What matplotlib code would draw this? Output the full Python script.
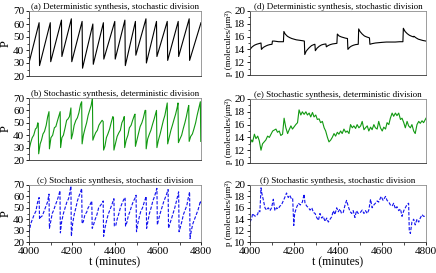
import matplotlib
matplotlib.use("Agg")
import matplotlib.pyplot as plt
from matplotlib.ticker import MultipleLocator

plt.rcParams['font.family'] = ['Liberation Serif', 'DejaVu Serif']

# (a) deterministic synthesis, stochastic division: protein number
t_a = [4000, 4047, 4049, 4099, 4101, 4151, 4153, 4197, 4199, 4247, 4249, 4297, 4299,
       4346, 4348, 4399, 4401, 4446, 4448, 4495, 4497, 4544, 4546, 4593, 4595, 4643,
       4645, 4694, 4696, 4745, 4747, 4800]
P_a = [30, 61, 28, 61, 31, 63, 35, 64, 31, 62, 26, 60, 29,
       61, 33, 62, 33, 63, 28, 62, 36, 64, 30, 62, 35, 62,
       32, 62, 35, 64, 32, 61]

# (b) stochastic synthesis, deterministic division
t_b = [4000, 4008, 4015, 4022, 4030, 4036, 4041, 4043,
       4045, 4052, 4058, 4065, 4072, 4080, 4087, 4093,
       4095, 4102, 4110, 4118, 4125, 4133, 4140, 4145,
       4147, 4153, 4160, 4168, 4175, 4181, 4188, 4195,
       4197, 4203, 4210, 4218, 4225, 4232, 4240, 4245,
       4247, 4253, 4260, 4268, 4275, 4282, 4289, 4295,
       4297, 4303, 4310, 4318, 4325, 4332, 4340, 4345,
       4347, 4353, 4360, 4367, 4375, 4382, 4390, 4393,
       4395, 4402, 4410, 4418, 4425, 4432, 4440, 4443,
       4445, 4452, 4460, 4467, 4475, 4482, 4490, 4493,
       4495, 4502, 4510, 4517, 4525, 4532, 4540, 4543,
       4545, 4552, 4560, 4567, 4575, 4582, 4590, 4593,
       4595, 4602, 4610, 4617, 4625, 4632, 4640, 4643,
       4645, 4652, 4660, 4667, 4675, 4682, 4690, 4693,
       4695, 4702, 4710, 4717, 4725, 4732, 4740, 4743,
       4745, 4752, 4760, 4767, 4775, 4782, 4790, 4797, 4799]
P_b = [28, 34, 38, 40, 45, 46, 50, 49,
       25, 33, 36, 41, 43, 48, 55, 59,
       29, 38, 40, 46, 47, 52, 56, 59,
       30, 38, 40, 46, 52, 53, 55, 62,
       37, 41, 48, 52, 54, 58, 65, 67,
       33, 40, 45, 50, 56, 60, 64, 70,
       36, 39, 42, 44, 48, 50, 52, 51,
       28, 31, 38, 41, 45, 50, 55, 54,
       28, 33, 39, 42, 44, 50, 53, 55,
       30, 36, 40, 46, 48, 52, 56, 57,
       31, 36, 42, 47, 50, 54, 60, 60,
       29, 37, 41, 44, 49, 53, 58, 60,
       30, 36, 41, 46, 52, 56, 63, 66,
       33, 38, 44, 48, 53, 57, 63, 66,
       34, 37, 40, 45, 50, 55, 62, 64,
       35, 39, 41, 45, 50, 56, 62, 67, 35]

# (c) stochastic synthesis, stochastic division
t_c = [4000, 4008, 4016, 4024, 4032, 4040, 4047,
       4049, 4055, 4062, 4070, 4078, 4086, 4093,
       4095, 4101, 4108, 4115, 4122, 4130, 4137, 4144,
       4146, 4152, 4160, 4168, 4176, 4184, 4190, 4195,
       4197, 4203, 4210, 4218, 4225, 4232, 4240, 4245,
       4247, 4253, 4260, 4268, 4275, 4282, 4292,
       4294, 4300, 4308, 4316, 4324, 4332, 4340, 4345,
       4347, 4353, 4360, 4368, 4376, 4384, 4395,
       4397, 4403, 4410, 4418, 4425, 4433, 4440, 4447,
       4449, 4455, 4462, 4470, 4478, 4486, 4492, 4498,
       4500, 4506, 4513, 4520, 4528, 4536, 4545,
       4547, 4553, 4560, 4568, 4576, 4584, 4590, 4595,
       4597, 4603, 4610, 4618, 4626, 4634, 4640, 4647,
       4649, 4655, 4662, 4670, 4678, 4686, 4696,
       4698, 4704, 4711, 4718, 4726, 4734, 4740, 4747,
       4749, 4755, 4762, 4770, 4778, 4786, 4792, 4797, 4800]
P_c = [28, 36, 40, 44, 47, 55, 59,
       40, 42, 43, 47, 51, 55, 62,
       32, 38, 45, 48, 52, 56, 60, 65,
       28, 38, 45, 50, 55, 58, 64, 69,
       25, 36, 44, 50, 56, 60, 64, 67,
       36, 38, 44, 46, 50, 52, 56,
       32, 35, 40, 44, 50, 52, 54, 56,
       25, 32, 38, 44, 48, 52, 58,
       34, 34, 40, 45, 50, 54, 57, 59,
       34, 37, 43, 47, 52, 56, 58, 61,
       29, 36, 42, 47, 50, 55, 60,
       32, 38, 45, 50, 56, 60, 64, 67,
       35, 40, 45, 50, 55, 59, 62, 66,
       32, 36, 40, 45, 50, 56, 64,
       29, 33, 38, 44, 48, 52, 58, 64,
       23, 30, 36, 40, 44, 48, 52, 56, 54]

# (d) concentration, deterministic synthesis, stochastic division
t_d = [4000, 4010, 4020, 4030, 4040, 4050, 4052, 4060, 4070, 4080, 4090, 4100,
       4102, 4110, 4120, 4130, 4140, 4152, 4154, 4160, 4170, 4180, 4190, 4200,
       4210, 4220, 4230, 4240, 4247, 4249, 4255, 4262, 4270, 4280, 4290, 4295,
       4297, 4305, 4315, 4325, 4335, 4345, 4347, 4355, 4365, 4375, 4385, 4395,
       4397, 4405, 4415, 4425, 4435, 4443, 4445, 4452, 4460, 4470, 4480, 4492,
       4494, 4500, 4510, 4520, 4530, 4543, 4545, 4555, 4570, 4585, 4600, 4620,
       4640, 4660, 4680, 4695, 4697, 4705, 4715, 4725, 4735, 4743, 4745, 4755,
       4765, 4775, 4785, 4800]
c_d = [14.0, 14.4, 14.65, 14.8, 14.9, 15.0, 14.0, 14.3, 14.5, 14.65, 14.75, 14.8,
       15.3, 15.3, 15.25, 15.2, 15.2, 15.2, 16.8, 16.4, 16.05, 15.85, 15.7, 15.6,
       15.5, 15.45, 15.4, 15.35, 15.3, 13.2, 13.7, 14.0, 14.3, 14.6, 14.75, 14.8,
       13.8, 14.2, 14.5, 14.7, 14.8, 14.85, 14.4, 14.6, 14.75, 14.85, 14.9, 14.95,
       16.4, 16.1, 15.95, 15.85, 15.75, 15.7, 14.0, 14.3, 14.5, 14.65, 14.75, 14.8,
       17.2, 16.8, 16.4, 16.1, 15.95, 15.8, 14.8, 14.9, 15.0, 15.05, 15.1, 15.15,
       15.15, 15.15, 15.2, 15.2, 17.3, 16.8, 16.45, 16.2, 16.05, 15.95, 16.05, 15.8,
       15.6, 15.5, 15.4, 15.3]

# (e) concentration, stochastic synthesis, deterministic division
t_e = [4000, 4008, 4012, 4020, 4027, 4035, 4042, 4050, 4057, 4072, 4080, 4088,
       4103, 4118, 4125, 4133, 4140, 4148, 4155, 4163, 4171, 4178, 4186, 4193,
       4208, 4216, 4223, 4231, 4238, 4246, 4254, 4261, 4269, 4276, 4284, 4291,
       4299, 4306, 4314, 4321, 4329, 4337, 4344, 4352, 4359, 4367, 4374, 4382,
       4389, 4397, 4404, 4412, 4419, 4427, 4435, 4442, 4450, 4457, 4465, 4472,
       4480, 4487, 4495, 4503, 4510, 4518, 4525, 4533, 4540, 4548, 4555, 4563,
       4570, 4578, 4585, 4593, 4601, 4608, 4616, 4623, 4631, 4638, 4646, 4653,
       4661, 4668, 4676, 4684, 4691, 4699, 4706, 4714, 4721, 4729, 4736, 4744,
       4751, 4759, 4767, 4774, 4782, 4789, 4800]
c_e = [13.0, 13.6, 13.3, 14.5, 13.8, 14.2, 13.5, 12.0, 13.0, 13.6, 14.2, 14.0,
       15.0, 15.3, 14.8, 15.0, 14.3, 14.5, 17.0, 15.5, 14.6, 15.2, 15.8, 15.3,
       16.0, 16.3, 18.3, 17.5, 18.0, 17.6, 18.0, 17.5, 17.8, 17.2, 17.9, 17.2,
       17.5, 16.8, 16.9, 16.3, 16.5, 15.5, 15.0, 14.0, 13.3, 13.6, 14.0, 14.6,
       14.2, 14.8, 14.5, 15.0, 14.6, 15.3, 14.8, 15.0, 14.6, 16.0, 15.5, 15.8,
       15.4, 16.0, 15.5, 15.8, 16.5, 15.2, 15.5, 15.8, 15.0, 15.6, 15.2, 16.0,
       15.5, 15.3, 16.5, 15.5, 15.0, 15.6, 15.3, 16.3, 16.0, 17.0, 17.8, 17.3,
       17.8, 17.4, 17.8, 16.8, 17.0, 16.3, 15.5, 16.5, 15.8, 15.5, 16.0, 15.0,
       14.6, 16.0, 16.5, 16.2, 16.6, 16.3, 17.0]

# (f) concentration, stochastic synthesis, stochastic division
t_f = [4000, 4008, 4012, 4020, 4027, 4035, 4039, 4045, 4050, 4054, 4060, 4068,
       4075, 4083, 4091, 4098, 4106, 4113, 4121, 4128, 4136, 4143, 4151, 4158,
       4166, 4174, 4181, 4189, 4194, 4199, 4203, 4211, 4220, 4229, 4238, 4246,
       4250, 4258, 4266, 4273, 4281, 4288, 4296, 4303, 4311, 4318, 4326, 4333,
       4341, 4349, 4356, 4364, 4371, 4379, 4386, 4394, 4401, 4409, 4416, 4424,
       4432, 4439, 4447, 4454, 4462, 4469, 4477, 4484, 4492, 4502, 4510, 4518,
       4525, 4533, 4540, 4548, 4555, 4563, 4570, 4578, 4585, 4596, 4605, 4616,
       4623, 4631, 4638, 4646, 4653, 4661, 4668, 4676, 4684, 4691, 4699, 4706,
       4714, 4721, 4724, 4729, 4736, 4744, 4751, 4759, 4767, 4774, 4782, 4789, 4800]
c_f = [13.5, 14.2, 15.0, 14.6, 14.5, 14.9, 15.5, 15.3, 19.5, 18.5, 17.5, 16.0,
       15.6, 16.0, 15.5, 16.0, 17.5, 15.5, 16.0, 15.8, 16.3, 16.5, 17.2, 17.8,
       18.6, 17.8, 18.2, 17.5, 17.6, 12.9, 15.0, 16.0, 16.8, 16.5, 17.0, 18.4,
       16.8, 16.3, 16.0, 15.6, 16.0, 15.2, 15.0, 14.3, 13.8, 15.0, 14.2, 14.5,
       13.6, 14.2, 13.5, 14.0, 14.4, 15.5, 14.8, 16.0, 15.3, 15.8, 15.0, 15.2,
       16.5, 17.3, 16.2, 15.4, 15.0, 15.5, 14.3, 15.5, 15.0, 15.2, 15.6, 15.0,
       15.5, 15.0, 15.6, 17.5, 16.0, 16.5, 16.8, 17.2, 17.0, 18.0, 17.3, 18.0,
       17.3, 17.0, 16.5, 16.3, 16.8, 15.8, 16.2, 15.5, 15.8, 14.5, 15.5, 16.0,
       16.6, 16.8, 12.0, 11.5, 13.5, 14.0, 13.0, 14.0, 13.5, 14.2, 14.8, 14.5, 14.5]

titles = ["(a) Deterministic synthesis, stochastic division",
          "(b) Stochastic synthesis, deterministic division",
          "(c) Stochastic synthesis, stochastic division",
          "(d) Deterministic synthesis, stochastic division",
          "(e) Stochastic synthesis, deterministic division",
          "(f) Stochastic synthesis, stochastic division"]

fig = plt.figure(figsize=(4.36, 2.73), dpi=100)
W, H = 436.0, 273.0

def make_ax(left, top, right, bottom):
    return fig.add_axes([left / W, 1 - bottom / H, (right - left) / W, (bottom - top) / H])

axes = [make_ax(29, 11, 201, 76), make_ax(29, 98, 201, 160), make_ax(29, 185, 201, 242),
        make_ax(250, 11, 426, 75), make_ax(250, 99, 426, 163), make_ax(250, 185, 426, 242)]

data = [(t_a, P_a), (t_b, P_b), (t_c, P_c), (t_d, c_d), (t_e, c_e), (t_f, c_f)]
styles = [dict(color='black', lw=0.8),
          dict(color='#119911', lw=0.8),
          dict(color='#1111ee', lw=0.8, ls=(0, (3, 1.5))),
          dict(color='black', lw=0.8),
          dict(color='#119911', lw=0.8),
          dict(color='#1111ee', lw=0.8, ls=(0, (3, 1.5)))]

for i, ax in enumerate(axes):
    x, y = data[i]
    ax.plot(x, y, **styles[i])
    ax.set_xlim(4000, 4800)
    if i < 3:
        ax.set_ylim(20, 70)
        ax.yaxis.set_major_locator(MultipleLocator(10))
        ax.yaxis.set_minor_locator(MultipleLocator(5))
        ax.set_ylabel("P", fontsize=9, labelpad=1)
    else:
        ax.set_ylim(10, 20)
        ax.yaxis.set_major_locator(MultipleLocator(2))
        ax.yaxis.set_minor_locator(MultipleLocator(1))
        ax.set_ylabel("p (molecules/μm³)", fontsize=6.5, labelpad=1)
    ax.xaxis.set_major_locator(MultipleLocator(200))
    ax.xaxis.set_minor_locator(MultipleLocator(100))
    ax.tick_params(which='major', direction='out', length=2.5, width=0.6, labelsize=8, pad=1)
    ax.tick_params(which='minor', direction='out', length=1.5, width=0.5)
    ax.tick_params(axis='x', which='both', length=2.5)
    if i in (2, 5):
        ax.set_xlabel("t (minutes)", fontsize=8.5, labelpad=0)
    else:
        ax.tick_params(axis='x', which='both', bottom=False, labelbottom=False)
    for side in ['top', 'right']:
        ax.spines[side].set_color('0.55')
    for side in ['left', 'bottom']:
        ax.spines[side].set_color('0.2')
    for s in ax.spines.values():
        s.set_linewidth(0.6)
    ax.set_title(titles[i], fontsize=6.5, pad=1)

fig.savefig("out.png", dpi=100)
